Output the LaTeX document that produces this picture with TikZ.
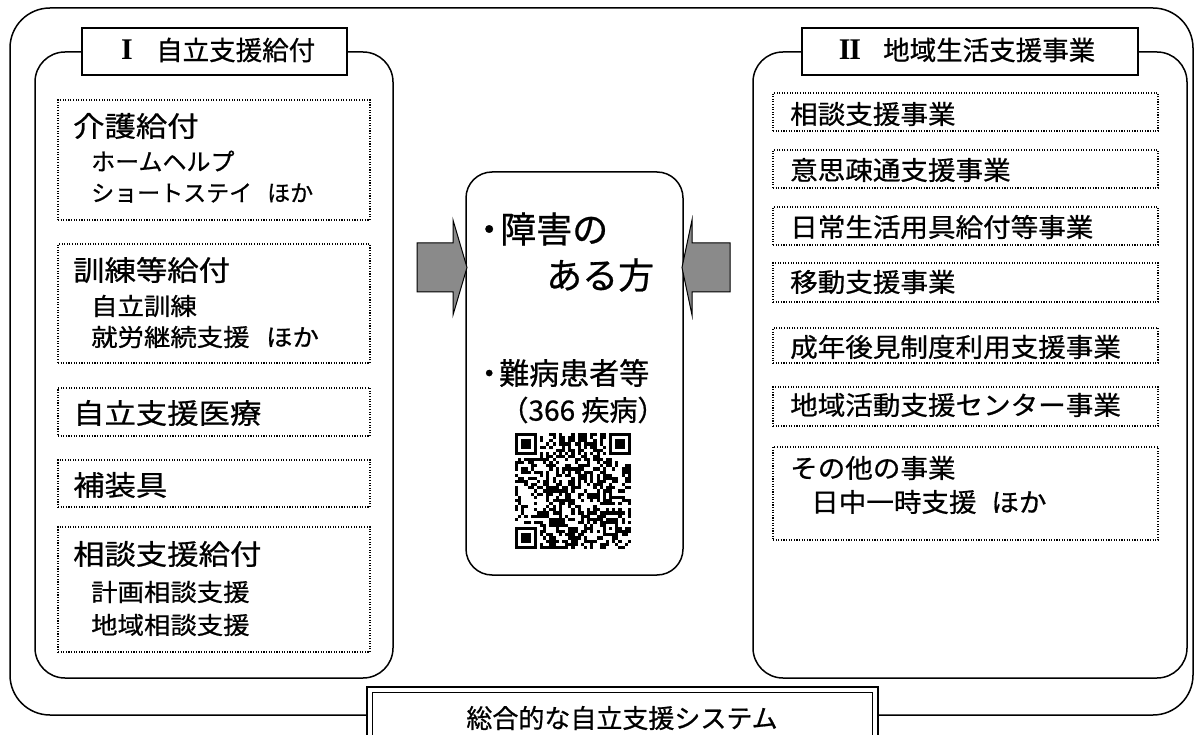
\documentclass[tikz,border=0pt]{standalone}
\usepackage{fontspec}
\usepackage{graphicx}
\setmainfont{Noto Sans CJK JP}[FakeBold=0.7]
\newfontfamily\romanfont{Liberation Serif}
\usetikzlibrary{fit}
\newcommand\wideH[1]{\scalebox{1.12}[1]{#1}}
\newcommand\wideS[1]{\scalebox{1.1}[1]{#1}}
\newcommand\wideR[1]{\scalebox{1.06}[1]{#1}}
\tikzset{
  outerbox/.style={draw, line width=1.5pt, rounded corners=40pt, inner sep=0pt},
  panelbox/.style={draw, line width=1.5pt, rounded corners=30pt, inner sep=0pt},
  centerbox/.style={draw, fill=white, line width=1.5pt, rounded corners=26pt, inner sep=0pt},
  titlebox/.style={draw, fill=white, line width=1.8pt, inner sep=0pt},
  dotbox/.style={draw, line width=1.2pt, dash pattern=on 1.1pt off 1.5pt, inner sep=0pt},
  txt/.style={anchor=west, inner sep=0pt, font=\fontsize{#1}{#1}\selectfont},
  ctxt/.style={anchor=center, inner sep=0pt, font=\fontsize{#1}{#1}\selectfont},
  numtxt/.style={anchor=center, inner sep=0pt, font=\romanfont\bfseries\fontsize{#1}{#1}\selectfont},
  blockarrow/.style={draw, line width=1pt, fill=arrowgray},
}
\definecolor{arrowgray}{RGB}{138,138,138}
\begin{document}
\begin{tikzpicture}[x=1pt,y=-1pt]
\useasboundingbox (0,0) rectangle (1200,735);
\clip (0,0) rectangle (1200,735);

% outer frame and panels
\node[outerbox, fit={(10,8) (1193,715)}] (outer) {};
\node[panelbox, fit={(35,52) (393,678)}] (left) {};
\node[panelbox, fit={(753,52) (1187,678)}] (right) {};

% title boxes
\node[titlebox, fit={(82,28) (347,75)}] (t1) {};
\node[numtxt=30] (t1n) at (127,50) {I};
\node[txt=26.5] (t1t) at (156,50) {自立支援給付};
\node[titlebox, fit={(802,28) (1138,75)}] (t2) {};
\node[numtxt=30] (t2n) at (850,50) {I\kern-1.2pt I};
\node[txt=26.5] (t2t) at (883,50) {地域生活支援事業};

% left dotted boxes
\node[dotbox, fit={(58,100) (370,220)}] (l1) {};
\node[txt=28] (l1a) at (73,126) {\wideH{介護給付}};
\node[txt=24] (l1b) at (91,161) {ホームヘルプ};
\node[txt=23] (l1c) at (91,193) {ショートステイ\hspace{15pt}ほか};

\node[dotbox, fit={(58,244) (370,363)}] (l2) {};
\node[txt=28] (l2a) at (73,270) {\wideH{訓練等給付}};
\node[txt=24] (l2b) at (91,306) {\wideS{自立訓練}};
\node[txt=24] (l2c) at (91,337) {\wideS{就労継続支援\hspace{15pt}ほか}};

\node[dotbox, fit={(58,388) (370,436)}] (l3) {};
\node[txt=28] (l3a) at (73,413) {\wideH{自立支援医療}};

\node[dotbox, fit={(58,460) (370,507)}] (l4) {};
\node[txt=28] (l4a) at (73,485) {\wideH{補装具}};

\node[dotbox, fit={(58,527) (370,652)}] (l5) {};
\node[txt=28] (l5a) at (73,554) {\wideH{相談支援給付}};
\node[txt=24] (l5b) at (91,592) {\wideS{計画相談支援}};
\node[txt=24] (l5c) at (91,625) {\wideS{地域相談支援}};

% right dotted boxes
\node[dotbox, fit={(773,93) (1158,131)}] (r1) {};
\node[txt=26] (r1a) at (790,114) {\wideR{相談支援事業}};
\node[dotbox, fit={(773,150) (1158,188)}] (r2) {};
\node[txt=26] (r2a) at (790,170) {\wideR{意思疎通支援事業}};
\node[dotbox, fit={(773,207) (1158,245)}] (r3) {};
\node[txt=26] (r3a) at (790,227) {\wideR{日常生活用具給付等事業}};
\node[dotbox, fit={(773,263) (1158,302)}] (r4) {};
\node[txt=26] (r4a) at (790,282) {\wideR{移動支援事業}};
\node[dotbox, fit={(773,328) (1158,363)}] (r5) {};
\node[txt=26] (r5a) at (790,347) {\wideR{成年後見制度利用支援事業}};
\node[dotbox, fit={(773,387) (1158,426)}] (r6) {};
\node[txt=26] (r6a) at (790,405) {\wideR{地域活動支援センター事業}};
\node[dotbox, fit={(773,447) (1158,540)}] (r7) {};
\node[txt=26] (r7a) at (790,468) {\wideR{その他の事業}};
\node[txt=26] (r7b) at (811,502) {\wideR{日中一時支援\hspace{14pt}ほか}};

% center box
\node[centerbox, fit={(466,172) (683,575)}] (center) {};
\node[txt=36] (c1) at (471,229) {・\kern-7pt 障害の};
\node[txt=36] (c2) at (546,275) {ある方};
\node[txt=30] (c3) at (474,373) {・\kern-5pt 難病患者等};
\node[ctxt=28] (c4) at (583,410) {（366 疾病）};

% QR code (approximate pattern)
\def\qx{515}\def\qy{433}\def\qm{3.135}
\pgfmathsetseed{20240}
\foreach \i in {0,...,36}{\foreach \j in {0,...,36}{
  \pgfmathtruncatemacro\sk{((\i<8)&&(\j<8))||((\i>28)&&(\j<8))||((\i<8)&&(\j>28))||((\i>27)&&(\i<33)&&(\j>27)&&(\j<33))||(\i==6)||(\j==6)}
  \ifnum\sk=0
    \pgfmathrandominteger{\qrv}{0}{1}
    \ifnum\qrv=1 \fill (\qx+\i*\qm,\qy+\j*\qm) rectangle ++(\qm,\qm);\fi
  \fi
}}
\foreach \k in {8,10,...,28}{
  \fill (\qx+\k*\qm,\qy+6*\qm) rectangle ++(\qm,\qm);
  \fill (\qx+6*\qm,\qy+\k*\qm) rectangle ++(\qm,\qm);
}
\foreach \fx/\fy in {0/0,30/0,0/30}{
  \fill (\qx+\fx*\qm,\qy+\fy*\qm) rectangle ++(7*\qm,7*\qm);
  \fill[white] (\qx+\fx*\qm+\qm,\qy+\fy*\qm+\qm) rectangle ++(5*\qm,5*\qm);
  \fill (\qx+\fx*\qm+2*\qm,\qy+\fy*\qm+2*\qm) rectangle ++(3*\qm,3*\qm);
}
\fill (\qx+28*\qm,\qy+28*\qm) rectangle ++(5*\qm,5*\qm);
\fill[white] (\qx+29*\qm,\qy+29*\qm) rectangle ++(3*\qm,3*\qm);
\fill (\qx+30*\qm,\qy+30*\qm) rectangle ++(\qm,\qm);

% block arrows
\draw[blockarrow] (417,243) -- (453,243) -- (453,220) -- (467,267.5) -- (453,315) -- (453,292) -- (417,292) -- cycle;
\draw[blockarrow] (730,243) -- (692,243) -- (692,220) -- (682,267.5) -- (692,315) -- (692,292) -- (730,292) -- cycle;

% bottom box
\node[draw, fill=white, line width=1.5pt, inner sep=0pt, fit={(367,687) (878,760)}] (bottomouter) {};
\node[draw, line width=1pt, inner sep=0pt, fit={(372,692) (872,760)}] (bottominner) {};
\node[ctxt=26] (btxt) at (622,718) {総合的な自立支援システム};
\end{tikzpicture}
\end{document}
